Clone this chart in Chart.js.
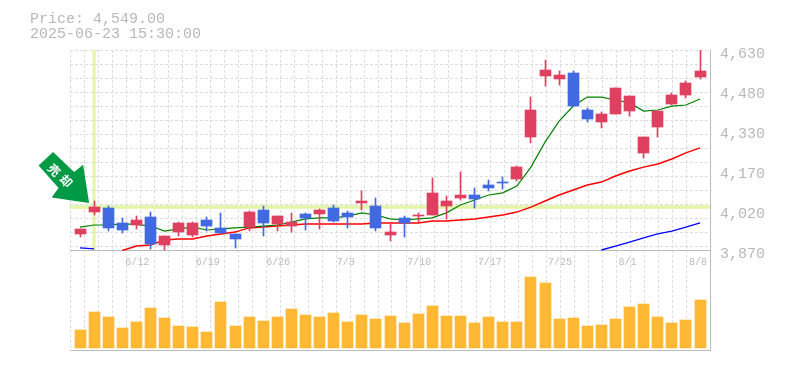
<!DOCTYPE html>
<html>
<head>
<meta charset="utf-8">
<style>html,body{margin:0;padding:0;background:#fff}#w{position:relative;width:785px;height:370px}</style>
<script src="https://cdn.jsdelivr.net/npm/chart.js@4/dist/chart.umd.min.js"></script>
</head>
<body>
<div id="w"><canvas id="c" width="785" height="370"></canvas></div>
<script>
const dates = ['6/6','6/9','6/10','6/11','6/12','6/13','6/16','6/17','6/18','6/19','6/20','6/23','6/24','6/25','6/26','6/27','6/30','7/1','7/2','7/3','7/4','7/7','7/8','7/9','7/10','7/11','7/14','7/15','7/16','7/17','7/18','7/22','7/23','7/24','7/25','7/28','7/29','7/30','7/31','8/1','8/4','8/5','8/6','8/7','8/8'];
const open_  = [3931,4014,4030,3973,3965,3995,3889,3938,3927,3984,3954,3931,3957,4022,3969,3961,4007,4007,4030,4011,4049,4037,3927,3992,3999,4003,4037,4068,4079,4117,4128,4140,4299,4531,4520,4543,4402,4356,4387,4398,4239,4337,4425,4459,4527];
const high_  = [3950,4056,4037,3992,3999,4014,3923,3976,3976,3995,4011,3931,4018,4037,3999,4011,4011,4026,4041,4018,4094,4068,3973,3999,4011,4144,4075,4166,4106,4136,4147,4189,4451,4592,4550,4550,4410,4394,4486,4455,4299,4398,4467,4512,4630];
const low_   = [3919,4003,3942,3935,3950,3874,3870,3923,3919,3942,3935,3878,3942,3923,3942,3938,3946,3950,3976,3954,4022,3942,3904,3919,3973,4003,3988,4060,4030,4094,4102,4132,4277,4493,4497,4417,4356,4334,4387,4379,4220,4299,4421,4448,4520];
const close_ = [3950,4033,3954,3946,3984,3893,3923,3973,3973,3961,3935,3912,4014,3973,3999,3976,3992,4022,3980,3995,4056,3954,3938,3973,4003,4087,4056,4079,4064,4106,4125,4185,4402,4554,4535,4417,4368,4387,4486,4455,4299,4398,4459,4505,4549];
const maShort = [3957,3965,3965,3969,3967,3961,3942,3950,3957,3946,3950,3954,3957,3961,3965,3976,3988,3992,3992,3999,4011,4003,3988,3984,3988,3992,4011,4041,4060,4079,4087,4113,4185,4280,4360,4417,4451,4451,4440,4429,4398,4402,4417,4421,4444];
const maMid = [null,null,null,3868,3885,3889,3908,3912,3912,3923,3931,3938,3954,3957,3961,3965,3969,3969,3969,3969,3969,3973,3973,3973,3973,3980,3980,3984,3988,3995,4003,4014,4033,4056,4079,4098,4117,4128,4151,4170,4185,4197,4216,4239,4258];
const maLong = [3878,3874,null,null,null,null,null,null,null,null,null,null,null,null,null,null,null,null,null,null,null,null,null,null,null,null,null,null,null,null,null,null,null,null,null,null,null,3870,3885,3900,3916,3931,3942,3957,3973];
const volume = [18000,36000,31000,20000,26000,40000,30000,22000,21000,16000,46000,22000,31000,27000,31000,39000,33000,31000,35000,26000,33000,29000,32000,25000,34000,42000,32000,32000,25000,31000,26000,26000,71000,65000,29000,30000,22000,23000,29000,41000,44000,31000,25000,28000,48000];
const priceTicks = [3870,4022,4174,4326,4478,4630];
const priceTickLabels = ['3,870','4,020','4,170','4,330','4,480','4,630'];
const dateTickIndex = [4,9,14,19,24,29,34,39,44];
const markLevel = 4033;
const markIndex = 1;
const titleLines = ['Price: 4,549.00','2025-06-23 15:30:00'];
const markText = ['売','却'];

const UP='#e04060', DOWN='#4169e1', VOL='#ffb833', GRID='#dddddd', AXIS='#bbbbbb', HILITE='#e3f5a6', TXT='#b8b8b8';
const idx = dates.map((_,i)=>i);
const colors = idx.map(i=>close_[i]>=open_[i]?UP:DOWN);
const mono = 'Liberation Mono';
const line = (arr,color,width,order)=>({type:'line',xAxisID:'x',yAxisID:'y',data:idx.map(i=>({x:i,y:arr[i]})),borderColor:color,borderWidth:width,pointRadius:0,tension:0,spanGaps:false,order});

const crisp = {id:'crisp',afterDatasetsUpdate(chart){
  chart.data.datasets.forEach((d,n)=>{
    if(d.type!=='bar')return;
    chart.getDatasetMeta(n).data.forEach(el=>{
      el.x=Math.floor(el.x)+0.5; el.y=Math.round(el.y); el.base=Math.round(el.base);
    });
  });
}};
const overlay = {id:'overlay',
  afterDraw(chart){
    const c=chart.ctx, tx=chart.scales.x.getPixelForValue(markIndex), ty=chart.scales.y.getPixelForValue(markLevel);
    c.save();
    c.fillStyle=TXT; c.font='15px "'+mono+'"'; c.textAlign='left'; c.textBaseline='middle';
    titleLines.forEach((t,i)=>c.fillText(t,30,19+15*i));
    const ox=tx-5, oy=ty-4;
    const pts=[[0,0],[-37.5,-5.7],[-30.5,-15],[-50.5,-37.7],[-36,-51],[-15,-31],[-6,-38.3]];
    c.fillStyle='#009944'; c.beginPath();
    pts.forEach((p,i)=>i?c.lineTo(ox+p[0],oy+p[1]):c.moveTo(ox+p[0],oy+p[1]));
    c.closePath(); c.fill();
    c.fillStyle='#fff'; c.font='bold 12px "Noto Sans CJK JP"'; c.textAlign='center'; c.textBaseline='middle';
    [[-35,-33],[-23,-22]].forEach((p,i)=>{
      c.save(); c.translate(ox+p[0],oy+p[1]); c.rotate(Math.PI/4); c.fillText(markText[i],0,0); c.restore();
    });
    c.restore();
  }};

new Chart(document.getElementById('c'),{
  data:{datasets:[
    {type:'line',xAxisID:'xg',yAxisID:'y',data:[{x:0,y:markLevel},{x:640/14,y:markLevel}],borderColor:HILITE,borderWidth:3.5,pointRadius:0,order:20},
    {type:'line',xAxisID:'x',yAxisID:'y',data:[{x:markIndex,y:3870},{x:markIndex,y:4630}],borderColor:HILITE,borderWidth:3,pointRadius:0,order:19},
    {type:'bar',xAxisID:'x',yAxisID:'v',data:idx.map(i=>({x:i,y:volume[i]})),backgroundColor:VOL,barThickness:11,grouped:false,order:18},
    line(maLong,'#0000ff',1.3,17),
    line(maMid,'#ff0000',1.5,16),
    line(maShort,'#008000',1.2,15),
    {type:'bar',xAxisID:'x',yAxisID:'y',data:idx.map(i=>({x:i,y:[low_[i],high_[i]]})),backgroundColor:colors,barThickness:1,grouped:false,order:11},
    {type:'bar',xAxisID:'x',yAxisID:'y',data:idx.map(i=>({x:i,y:[open_[i],close_[i]]})),backgroundColor:colors,barThickness:11,grouped:false,order:10}
  ]},
  plugins:[crisp,overlay],
  options:{
    responsive:false,animation:false,
    layout:{padding:{left:70,top:50,bottom:20,right:0}},
    plugins:{legend:{display:false},tooltip:{enabled:false},title:{display:false}},
    scales:{
      xg:{type:'linear',position:'bottom',offset:false,min:0,max:640/14,
        ticks:{display:false,stepSize:1,autoSkip:false},
        grid:{color:GRID,lineWidth:1,drawTicks:false},
        border:{display:true,color:AXIS,width:1,dash:[3,2]},afterFit(s){s.height=0}},
      x:{type:'linear',position:{y:3870},offset:false,min:-10.01/(155/11),max:(640-10.01)/(155/11),
        afterBuildTicks(s){s.ticks=dateTickIndex.map(v=>({value:v}))},
        ticks:{autoSkip:false,maxRotation:0,align:'start',labelOffset:-11,padding:6,color:'#bbbbbb',font:{family:mono,size:10},callback:v=>dates[v]},
        grid:{display:false,drawTicks:false},
        border:{display:true,color:AXIS,width:1}},
      yg:{type:'linear',position:'left',reverse:true,min:0,max:300/14,
        ticks:{display:false,stepSize:1},
        grid:{color:c=>c.tick.value<=14.01?GRID:'rgba(0,0,0,0)',lineWidth:1,drawTicks:false},
        border:{display:false,dash:[3,2]},afterFit(s){s.width=0}},
      y:{type:'linear',position:'right',min:3490,max:4630,
        afterBuildTicks(s){s.ticks=priceTicks.map(v=>({value:v}))},
        ticks:{autoSkip:false,labelOffset:4,padding:10,color:TXT,font:{family:mono,size:15},callback:v=>priceTickLabels[priceTicks.indexOf(v)]},
        grid:{display:false,drawTicks:false},
        border:{display:true,color:AXIS,width:1},afterFit(s){s.width=75}},
      v:{type:'linear',display:false,min:-2000,max:298000}
    }
  }
});
</script>
</body>
</html>
